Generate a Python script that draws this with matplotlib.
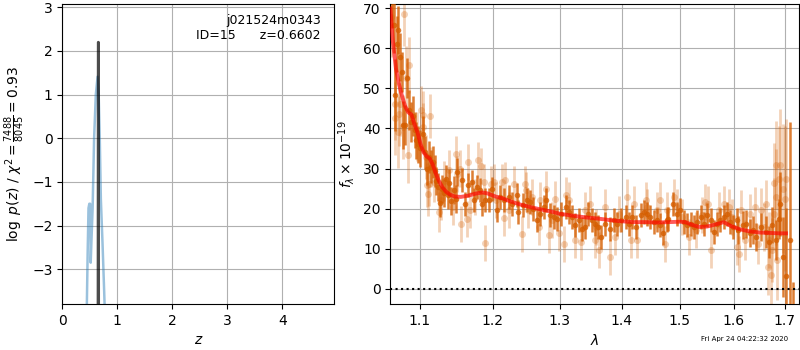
import matplotlib
matplotlib.use('Agg')
import matplotlib.pyplot as plt
from matplotlib.ticker import NullLocator, FixedLocator

# p(z) curves (left panel)
pz_z = [0.44, 0.46, 0.475, 0.49, 0.505, 0.515, 0.53, 0.55, 0.577, 0.608, 0.64, 0.66, 0.68, 0.70, 0.73, 0.76, 0.785]
pz_logp = [-4.2, -2.6, -1.6, -1.5, -1.5, -2.85, -2.3, -1.6, 0.0, 1.0, 1.41, 1.0, 0.0, -1.4, -2.4, -3.5, -4.5]
fine_z = [0.648, 0.652, 0.656, 0.660]
fine_logp = [-4.5, 2.2, 2.2, -4.5]

# spectrum, well sampled beam
dark_wave = [1.0635, 1.0660, 1.0680, 1.0700, 1.0713, 1.0745, 1.0764, 1.0785, 1.0805, 1.0834,
             1.0855, 1.0880, 1.0905, 1.0930, 1.0955, 1.0980, 1.1005, 1.1045, 1.1070, 1.1093,
             1.1124, 1.1150, 1.1168, 1.1195, 1.1220, 1.1245, 1.1266, 1.1290, 1.1320, 1.1345,
             1.1370, 1.1395, 1.1420, 1.1455, 1.1480, 1.1504, 1.1562, 1.1609, 1.1657, 1.1705,
             1.1729, 1.1777, 1.1825, 1.1848, 1.1896, 1.1944, 1.1992, 1.2064, 1.2111, 1.2159,
             1.2231, 1.2279, 1.2350, 1.2374, 1.2446, 1.2494, 1.2544, 1.2596, 1.2648, 1.2700,
             1.2751, 1.2788, 1.2855, 1.2907, 1.2959, 1.3011, 1.3089, 1.3141, 1.3193, 1.3245,
             1.3296, 1.3348, 1.3400, 1.3452, 1.3504, 1.3556, 1.3608, 1.3655, 1.3723, 1.3807,
             1.3864, 1.3920, 1.3977, 1.4062, 1.4118, 1.4175, 1.4231, 1.4316, 1.4372, 1.4429,
             1.4485, 1.4542, 1.4598, 1.4655, 1.4711, 1.4768, 1.4796, 1.4889, 1.4950, 1.5011,
             1.5073, 1.5134, 1.5196, 1.5257, 1.5318, 1.5380, 1.5441, 1.5503, 1.5564, 1.5625,
             1.5687, 1.5748, 1.5810, 1.5871, 1.5932, 1.5994, 1.6055, 1.6084, 1.6180, 1.6243,
             1.6307, 1.6371, 1.6435, 1.6530, 1.6626, 1.6690, 1.6754, 1.6818, 1.6881, 1.6913,
             1.6964, 1.7022, 1.7117, 1.7168]
dark_flux = [74.0, 65.8, 48.3, 61.0, 64.7, 57.9, 54.2, 40.8, 40.8, 52.7,
             44.5, 41.5, 43.0, 39.5, 37.0, 36.0, 35.0, 38.7, 34.0, 29.8,
             32.9, 30.5, 31.7, 29.5, 27.0, 25.5, 21.4, 25.0, 24.0, 27.5,
             23.5, 26.5, 22.0, 24.6, 22.5, 29.2, 27.1, 21.2, 25.8, 26.7,
             22.1, 25.4, 24.6, 21.2, 22.1, 22.1, 25.0, 19.6, 22.9, 22.1,
             22.9, 21.2, 23.3, 19.2, 20.8, 22.1, 21.7, 20.0, 17.1, 18.7,
             20.4, 22.2, 18.3, 17.9, 17.5, 18.7, 20.4, 19.2, 17.9, 15.8,
             17.1, 15.0, 15.4, 18.7, 17.1, 16.2, 15.4, 13.0, 16.2, 15.0,
             17.1, 16.2, 17.1, 17.9, 16.2, 17.9, 15.4, 18.3, 19.2, 18.7,
             17.9, 16.7, 17.1, 15.8, 13.8, 17.1, 17.5, 21.2, 18.7, 19.6,
             16.7, 15.8, 16.2, 15.4, 16.7, 17.9, 16.2, 18.3, 17.1, 14.2,
             16.2, 17.1, 17.9, 18.7, 16.7, 15.4, 17.1, 14.6, 15.8, 16.2,
             13.8, 14.6, 13.0, 15.4, 14.2, 11.7, 15.8, 12.1, 17.5, 21.2,
             7.9, 3.1, 12.1, -10.0]
dark_err = [9, 7, 9, 7, 6, 6, 5, 6, 5, 5,
            5, 5, 5, 4.5, 4.5, 4.5, 4.5, 4.5, 4, 4,
            4, 4, 4, 4, 3.5, 3.5, 3.5, 3.5, 3.5, 3.5,
            3.5, 3.5, 3.5, 3.5, 3.5, 3.5, 3, 3, 3, 3,
            3, 3, 3, 3, 3, 3, 3, 3, 3, 3,
            3, 3, 3, 3, 3, 3, 3, 3, 3, 3,
            3, 3, 3, 3, 3, 3, 3, 3, 3, 3,
            3, 3, 3, 3, 3, 3, 3, 3, 3, 3,
            3, 3, 3, 3, 3, 3, 3, 3, 3, 3,
            3, 3, 3, 3, 3, 3, 3, 3, 3, 3,
            3, 3, 3, 3, 3, 3, 3, 3, 3, 3,
            3, 3, 3, 3, 3, 3, 3, 3.5, 3.5, 3.5,
            3.5, 3.5, 3.5, 3.5, 4, 4, 4.5, 5, 5, 8,
            10, 17, 29.5, 11.7]

# spectrum, second beam (drawn faint)
light_wave = [1.0625, 1.0673, 1.0680, 1.0717, 1.0733, 1.0744, 1.0776, 1.0800, 1.0823, 1.0849,
              1.0857, 1.0960, 1.1013, 1.1036, 1.1045, 1.1079, 1.1092, 1.1102, 1.1120, 1.1130,
              1.1146, 1.1184, 1.1254, 1.1279, 1.1320, 1.1393, 1.1450, 1.1490, 1.1500, 1.1538,
              1.1552, 1.1633, 1.1657, 1.1681, 1.1753, 1.1791, 1.1839, 1.1872, 1.1896, 1.1968,
              1.2025, 1.2040, 1.2135, 1.2159, 1.2183, 1.2231, 1.2303, 1.2422, 1.2466, 1.2480,
              1.2518, 1.2570, 1.2674, 1.2700, 1.2788, 1.2830, 1.2881, 1.2933, 1.2985, 1.3063,
              1.3089, 1.3141, 1.3245, 1.3338, 1.3400, 1.3478, 1.3556, 1.3581, 1.3618, 1.3723,
              1.3798, 1.3892, 1.3949, 1.4080, 1.4146, 1.4203, 1.4259, 1.4401, 1.4429, 1.4598,
              1.4655, 1.4740, 1.4766, 1.4907, 1.4950, 1.5042, 1.5165, 1.5288, 1.5410, 1.5456,
              1.5521, 1.5570, 1.5717, 1.5810, 1.5902, 1.5963, 1.6055, 1.6098, 1.6148, 1.6211,
              1.6307, 1.6403, 1.6466, 1.6530, 1.6594, 1.6626, 1.6658, 1.6690, 1.6722, 1.6754,
              1.6786, 1.6790, 1.6818, 1.6837, 1.6849, 1.6881, 1.6913, 1.6977, 1.7000, 1.7035]
light_flux = [67.9, 46.0, 42.5, 39.2, 43.7, 46.2, 40.4, 68.5, 52.5, 33.4,
              55.9, 38.0, 44.6, 40.4, 43.3, 32.9, 25.8, 23.7, 26.2, 43.0,
              30.4, 26.7, 19.2, 22.1, 27.0, 29.6, 20.5, 33.7, 28.7, 30.0,
              16.2, 17.5, 31.7, 19.6, 22.9, 32.2, 30.6, 26.7, 11.4, 26.2,
              26.7, 22.1, 26.7, 17.7, 27.1, 19.6, 26.2, 13.7, 26.2, 24.6,
              19.6, 22.9, 15.4, 22.1, 25.0, 13.3, 17.1, 22.5, 13.8, 11.2,
              23.3, 22.1, 12.1, 11.7, 19.6, 21.2, 12.1, 15.4, 9.6, 20.4,
              7.8, 13.0, 18.7, 22.8, 12.1, 21.2, 12.1, 22.2, 20.4, 19.6,
              22.1, 11.2, 19.6, 22.9, 20.4, 17.9, 13.0, 14.6, 18.3, 21.6,
              21.2, 9.6, 19.6, 21.2, 20.4, 17.9, 10.4, 8.7, 19.6, 12.1,
              18.7, 20.4, 11.2, 19.6, 15.4, 21.2, 5.4, 12.1, 3.3, 9.6,
              18.7, 26.3, 30.8, 22.9, 7.1, 27.5, 30.8, 25.0, 22.5, 27.3]
light_err = [10, 9, 9, 9, 8, 8, 8, 8, 8, 7,
             7, 6, 6, 6, 6, 5.5, 5.5, 5.5, 5.5, 5.5,
             5, 5, 5, 5, 5, 5, 4.5, 4.5, 4.5, 4.5,
             4.5, 4.5, 4.5, 4.5, 4.5, 4.5, 4.5, 4.5, 4.5, 4.5,
             4.5, 4.5, 4.5, 4.5, 4.5, 4.5, 4.5, 4.5, 4.5, 4.5,
             4.5, 4.5, 4.5, 4.5, 4.5, 4.5, 4.5, 4.5, 4.5, 4.5,
             4.5, 4.5, 4.5, 4.5, 4.5, 4.5, 4.5, 4.5, 4.5, 4.5,
             4.5, 4.5, 4.5, 4.5, 4.5, 4.5, 4.5, 4.5, 4.5, 4.5,
             4.5, 4.5, 4.5, 4.5, 4.5, 4.5, 4.5, 4.5, 4.5, 4.5,
             4.5, 4.5, 4.5, 4.5, 4.5, 4.5, 4.5, 4.5, 5, 5,
             5, 5, 5, 5.5, 6, 6, 7, 7, 8, 8,
             9, 10, 11, 12, 10, 13, 14, 16, 18, 15]

# best-fit model
model_wave = [1.0620, 1.0650, 1.0690, 1.0730, 1.0770, 1.0810, 1.0850, 1.0890, 1.0930, 1.0970,
              1.1010, 1.1050, 1.1090, 1.1130, 1.1170, 1.1210, 1.1250, 1.1300, 1.1350, 1.1400,
              1.1466, 1.1550, 1.1650, 1.1750, 1.1850, 1.1920, 1.2040, 1.2150, 1.2250, 1.2400,
              1.2540, 1.2700, 1.2850, 1.3000, 1.3200, 1.3400, 1.3600, 1.3800, 1.4000, 1.4200,
              1.4400, 1.4600, 1.4800, 1.5000, 1.5100, 1.5250, 1.5350, 1.5500, 1.5650, 1.5810,
              1.5950, 1.6120, 1.6300, 1.6500, 1.6700, 1.6900, 1.7030]
model_flux = [70.0, 62.0, 55.0, 51.0, 48.0, 45.5, 44.0, 43.5, 41.0, 39.0,
              36.0, 34.0, 33.0, 32.5, 31.0, 28.8, 27.0, 25.3, 24.2, 23.5,
              23.0, 22.9, 23.2, 23.7, 24.0, 23.8, 23.0, 22.5, 21.8, 21.0,
              20.4, 19.8, 19.3, 18.7, 18.2, 17.8, 17.5, 17.1, 16.8, 16.6,
              16.6, 16.5, 16.6, 16.7, 16.6, 15.8, 15.4, 15.5, 16.0, 16.6,
              15.6, 14.8, 14.3, 14.0, 13.9, 13.8, 13.8]

grism_color = (0.835, 0.369, 0.0)

fig = plt.figure(figsize=(8, 3.5), dpi=100)

# left: p(z)
ax1 = fig.add_axes([0.078, 0.131, 0.340, 0.858])
ax1.plot(pz_z, pz_logp, color='#1f77b4', alpha=0.45, lw=1.8)
ax1.plot(fine_z, fine_logp, color='k', alpha=0.7, lw=2)
ax1.set_xlim(0, 4.95)
ax1.set_ylim(-3.8, 3.08)
ax1.set_xticks([0, 1, 2, 3, 4])
ax1.grid()
ax1.set_xlabel('$z$')
ax1.set_ylabel(r'$\log\ p(z)$ / $\chi^2=\frac{7488}{8045}=0.93$')
ax1.text(0.95, 0.965, 'j021524m0343\nID=15      z=0.6602', ha='right', va='top',
         multialignment='right', transform=ax1.transAxes, fontsize=9)

# right: spectrum
ax2 = fig.add_axes([0.488, 0.131, 0.511, 0.858])
ax2.errorbar(light_wave, light_flux, yerr=light_err, fmt='o', color=grism_color,
             alpha=0.28, ms=5, mew=0, elinewidth=2, zorder=2)
ax2.errorbar(dark_wave, dark_flux, yerr=dark_err, fmt='o', color=grism_color,
             alpha=0.8, ms=4, mew=0, elinewidth=1.8, zorder=3)
ax2.plot(model_wave, model_flux, color='r', alpha=0.65, lw=2.8, zorder=4)
ax2.axhline(0, color='k', ls=':', lw=1.5, zorder=5)
ax2.set_xscale('log')
ax2.set_xlim(1.062, 1.730)
ax2.set_ylim(-3.9, 71.15)
ax2.xaxis.set_major_locator(FixedLocator([1.1, 1.2, 1.3, 1.4, 1.5, 1.6, 1.7]))
ax2.xaxis.set_minor_locator(NullLocator())
ax2.set_xticklabels(['1.1', '1.2', '1.3', '1.4', '1.5', '1.6', '1.7'])
ax2.grid()
ax2.set_xlabel(r'$\lambda$')
ax2.set_ylabel(r'$f_\lambda\times10^{-19}$')

fig.text(0.985, 0.022, 'Fri Apr 24 04:22:32 2020', ha='right', va='bottom', fontsize=5)

fig.savefig('out.png', dpi=100)
